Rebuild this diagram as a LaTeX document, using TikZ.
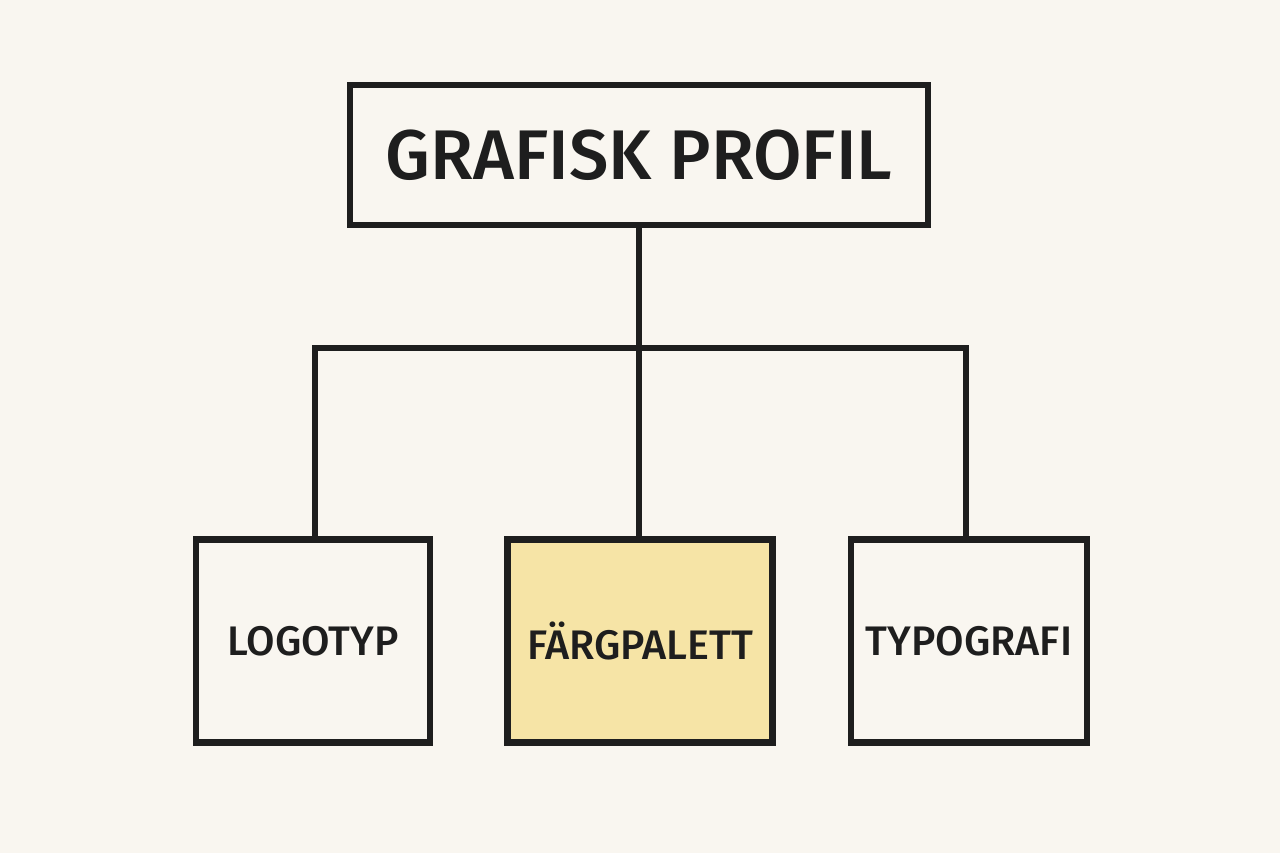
\documentclass[tikz,border=0pt]{standalone}
\usepackage{fontspec}
\setmainfont{Fira Sans}[BoldFont={Fira Sans Medium}]
\usepackage{xcolor}
\definecolor{paper}{RGB}{249,246,240}
\definecolor{ink}{RGB}{30,30,30}
\definecolor{palette}{RGB}{246,228,166}
\usetikzlibrary{calc}
\tikzset{
    common/.style={draw=ink, rectangle, line width=3.6pt, text=ink, font=\bfseries},
    head/.style={common, minimum width=11.56cm, minimum height=2.8cm, font=\fontsize{40}{44}\selectfont\bfseries},
    leaf/.style={common, minimum height=4.06cm, font=\fontsize{23.5}{28}\selectfont\bfseries},
    link/.style={draw=ink, line width=3pt}
}
\begin{document}
\begin{tikzpicture}[x=0.02cm, y=-0.02cm]
      \fill[paper] (0,0) rectangle (1280,853);
      \useasboundingbox (0,0) rectangle (1280,853);

      \node[head] (profil) at (639,155) {GRAFISK PROFIL};
      \node[leaf, minimum width=4.68cm] (logo) at (313,641) {LOGOTYP};
      \node[leaf, minimum width=5.3cm, fill=palette] (farg) at (640,641) {FÄRGPALETT};
      \node[leaf, minimum width=4.72cm] (typo) at (969,641) {TYPOGRAFI};

      \coordinate (bar) at (639,348);
      \coordinate (bar-left) at (315,348);
      \coordinate (bar-right) at (966,348);

      \draw[link] (profil.south) -- (bar);
      \draw[link] (bar-left |- logo.north) -- (bar-left) -- (bar-right) -- (bar-right |- typo.north);
      \draw[link] (bar) -- (bar |- farg.north);
    \end{tikzpicture}
\end{document}
